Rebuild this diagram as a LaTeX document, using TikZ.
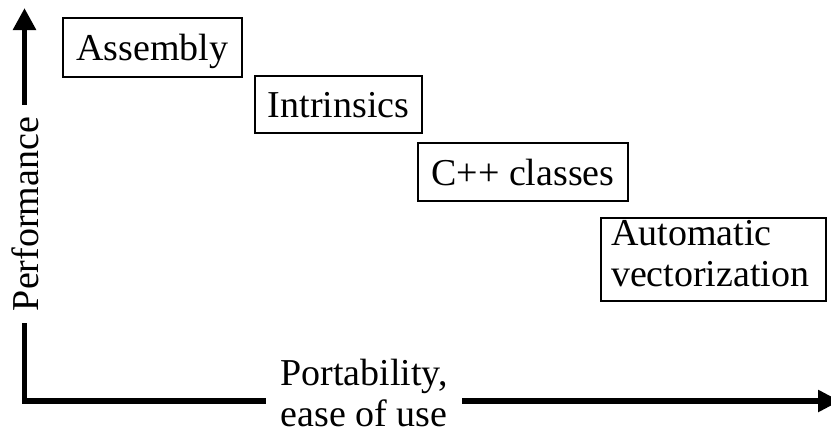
\documentclass[tikz,border=0pt]{standalone}
\usepackage{fontspec}
\setmainfont{Liberation Serif}
\usetikzlibrary{arrows.meta}
\begin{document}
\begin{tikzpicture}[x=1pt,y=-1pt,
  every node/.style={font=\fontsize{38}{41}\selectfont},
  stepbox/.style={draw=black, line width=2pt, inner sep=0pt, text height=26pt, text depth=0pt},
  axis/.style={line width=5.5pt, line join=miter,
    {Triangle[length=22pt,width=22pt]}-{Triangle[length=22pt,width=21pt]}},
  axislabel/.style={fill=white, inner xsep=12pt, inner ysep=0pt}]
\useasboundingbox (0,0) rectangle (831,434);
\clip (0,0) rectangle (831,434);
\coordinate (origin) at (24.5,401);
\coordinate (ytip) at (24.5,8);
\coordinate (xtip) at (840,401);
\draw[axis] (ytip) -- (origin) -- (xtip);
\node[axislabel, rotate=90, text height=26pt, text depth=0pt] (perf) at (25,214) {Performance};
\node[axislabel, align=center, inner xsep=14pt] (port) at (364,393) {Portability,\\ease of use};
\node[stepbox, minimum width=179pt, minimum height=59pt] (asm) at (152.5,47.5) {Assembly};
\node[stepbox, minimum width=167pt, minimum height=57pt] (intr) at (338.5,104.5) {Intrinsics};
\node[stepbox, minimum width=210pt, minimum height=58pt] (cpp) at (523,172) {C++ classes};
\node[draw=black, line width=2pt, inner sep=0pt, minimum width=225pt, minimum height=83pt,
  text width=205pt, align=left] (auto) at (713.5,259.5)
  {Automatic\\vectorization\rule[-12pt]{0pt}{12pt}};
\end{tikzpicture}
\end{document}
